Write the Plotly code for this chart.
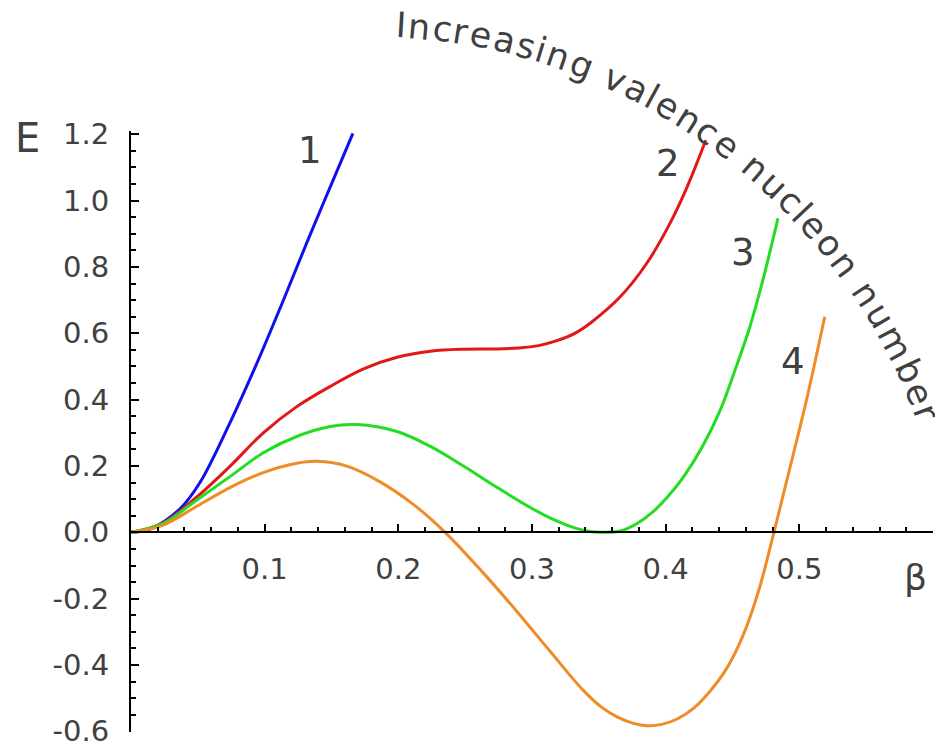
import math
import plotly.graph_objects as go

# ---------------- data ----------------
beta1 = [0.0, 0.0142, 0.0367, 0.0516, 0.0741, 0.0943, 0.113, 0.1317, 0.149, 0.166]
E1 = [0.0, 0.010, 0.071, 0.150, 0.331, 0.511, 0.690, 0.875, 1.041, 1.203]

beta2 = [0.0, 0.024, 0.049, 0.074, 0.099, 0.124, 0.149, 0.174, 0.199, 0.224, 0.249,
         0.274, 0.290, 0.305, 0.318, 0.332, 0.344, 0.366, 0.386, 0.403, 0.416, 0.430]
E2 = [0.0, 0.028, 0.106, 0.199, 0.300, 0.379, 0.440, 0.493, 0.528, 0.546, 0.552,
      0.553, 0.556, 0.563, 0.577, 0.600, 0.632, 0.710, 0.812, 0.930, 1.041, 1.182]

beta3 = [0.0, 0.024, 0.049, 0.074, 0.099, 0.124, 0.149, 0.169, 0.199, 0.224, 0.249,
         0.274, 0.300, 0.318, 0.333, 0.345, 0.355, 0.366, 0.378, 0.390, 0.401, 0.413,
         0.427, 0.441, 0.452, 0.463, 0.473, 0.484]
E3 = [0.0, 0.027, 0.097, 0.168, 0.240, 0.289, 0.319, 0.325, 0.304, 0.259, 0.199,
      0.135, 0.072, 0.035, 0.012, 0.002, 0.0, 0.004, 0.025, 0.060, 0.105, 0.165,
      0.255, 0.370, 0.490, 0.620, 0.765, 0.947]

beta4 = [0.0, 0.024, 0.049, 0.074, 0.099, 0.124, 0.139, 0.162, 0.186, 0.211, 0.235,
         0.263, 0.289, 0.314, 0.338, 0.352, 0.364, 0.376, 0.386, 0.397, 0.409, 0.421,
         0.433, 0.446, 0.458, 0.470, 0.481, 0.493, 0.506, 0.519]
E4 = [0.0, 0.022, 0.078, 0.135, 0.180, 0.208, 0.214, 0.199, 0.153, 0.085, 0.0,
      -0.120, -0.240, -0.361, -0.475, -0.527, -0.557, -0.576, -0.583, -0.579, -0.562, -0.530,
      -0.480, -0.408, -0.310, -0.170, 0.0, 0.195, 0.410, 0.650]

curve_names = ["1", "2", "3", "4"]
curve_colors = ["#1010ee", "#e01818", "#22dd22", "#f08c28"]
label_beta = [0.134, 0.402, 0.458, 0.4955]
label_E = [1.152, 1.113, 0.845, 0.514]

x_tick_vals = [0.1, 0.2, 0.3, 0.4, 0.5]
x_tick_text = ["0.1", "0.2", "0.3", "0.4", "0.5"]
y_tick_vals = [-0.6, -0.4, -0.2, 0.0, 0.2, 0.4, 0.6, 0.8, 1.0, 1.2]
y_tick_text = ["-0.6", "-0.4", "-0.2", "0.0", "0.2", "0.4", "0.6", "0.8", "1.0", "1.2"]

arc_text = "Increasing valence nucleon number"

# ---------------- layout geometry ----------------
# the page body has an 8px margin, so the figure is offset by 8px on screen
OFF = 8
W, H = 935, 740
ML, MT = 131 - OFF, 131 - OFF
MR = W - (933 - OFF)
MB = H - (732.5 - OFF)
PW, PH = W - ML - MR, H - MT - MB
XR = [0.0, 0.6]
YR = [-0.602, 1.21]
FONT = "DejaVu Sans"
TXT = "#404040"

def px_to_paper(px, py):
    # screen pixel -> paper coordinates
    fx, fy = px - OFF, py - OFF
    return (fx - ML) / PW, (H - MB - fy) / PH

fig = go.Figure()
for bx, ey, nm, col in zip([beta1, beta2, beta3, beta4], [E1, E2, E3, E4], curve_names, curve_colors):
    fig.add_trace(go.Scatter(x=bx, y=ey, mode="lines", name=nm,
                             line=dict(color=col, width=3, shape="spline", smoothing=1.0),
                             showlegend=False, cliponaxis=False))

ann = []
for nm, bx, ey in zip(curve_names, label_beta, label_E):
    ann.append(dict(x=bx, y=ey, xref="x", yref="y", text=nm, showarrow=False,
                    xanchor="center", yanchor="middle",
                    font=dict(family=FONT, size=37, color=TXT)))

# axis labels
ex, ey_ = px_to_paper(27, 138)
ann.append(dict(x=ex, y=ey_, xref="paper", yref="paper", text="E", showarrow=False,
                xanchor="center", yanchor="middle",
                font=dict(family=FONT, size=40, color=TXT)))
bx_, by_ = px_to_paper(915, 578)
ann.append(dict(x=bx_, y=by_, xref="paper", yref="paper", text="β", showarrow=False,
                xanchor="center", yanchor="middle",
                font=dict(family=FONT, size=36, color=TXT)))

# curved text along an arc
widths = {"I": .295, "n": .634, "c": .55, "r": .411, "e": .615, "a": .613, "s": .521,
          "i": .278, "g": .635, " ": .318, "v": .592, "l": .278, "u": .634, "o": .612,
          "m": .974, "b": .635}
cx, cy, R = 365, 624, 600
a0, a1 = 3.4, 69.4
w = [widths.get(ch, 0.6) for ch in arc_text]
centers = []
acc = 0.0
for wi in w:
    centers.append(acc + wi / 2)
    acc += wi
span = centers[-1] - centers[0]
for ch, c in zip(arc_text, centers):
    if ch == " ":
        continue
    ang = a0 + (a1 - a0) * (c - centers[0]) / span
    th = math.radians(ang)
    px = cx + R * math.sin(th)
    py = cy - R * math.cos(th)
    xx, yy = px_to_paper(px, py)
    ann.append(dict(x=xx, y=yy, xref="paper", yref="paper", text=ch, showarrow=False,
                    textangle=ang, xanchor="center", yanchor="middle",
                    font=dict(family=FONT, size=35, color=TXT)))

x_minor = [round(0.02 * k, 2) for k in range(1, 30) if k % 5 != 0]
y_minor = [round(-0.6 + 0.05 * k, 2) for k in range(0, 37) if k % 4 != 0]

fig.update_layout(
    width=W, height=H, margin=dict(l=ML, r=MR, t=MT, b=MB, autoexpand=False),
    paper_bgcolor="white", plot_bgcolor="white",
    annotations=ann,
    xaxis=dict(range=XR, domain=[0, 1], anchor="free", position=(0 - YR[0]) / (YR[1] - YR[0]),
               automargin=False, ticklabeloverflow="allow",
               showgrid=False, zeroline=False, showline=True, linecolor="black", linewidth=2,
               ticks="inside", ticklen=7, tickwidth=2, tickcolor="black",
               tickvals=x_tick_vals, ticktext=x_tick_text, ticklabelstandoff=11,
               tickfont=dict(family=FONT, size=29, color=TXT),
               minor=dict(tickvals=x_minor, ticks="inside", ticklen=4, tickwidth=2, tickcolor="black")),
    yaxis=dict(range=YR, domain=[0, 1], automargin=False, ticklabeloverflow="allow",
               showgrid=False, zeroline=False, showline=True,
               linecolor="black", linewidth=2,
               ticks="inside", ticklen=8, tickwidth=2, tickcolor="black",
               tickvals=y_tick_vals, ticktext=y_tick_text, ticklabelstandoff=14,
               tickfont=dict(family=FONT, size=29, color=TXT),
               minor=dict(tickvals=y_minor, ticks="inside", ticklen=5, tickwidth=2, tickcolor="black")),
)

fig.write_html("out.html")
